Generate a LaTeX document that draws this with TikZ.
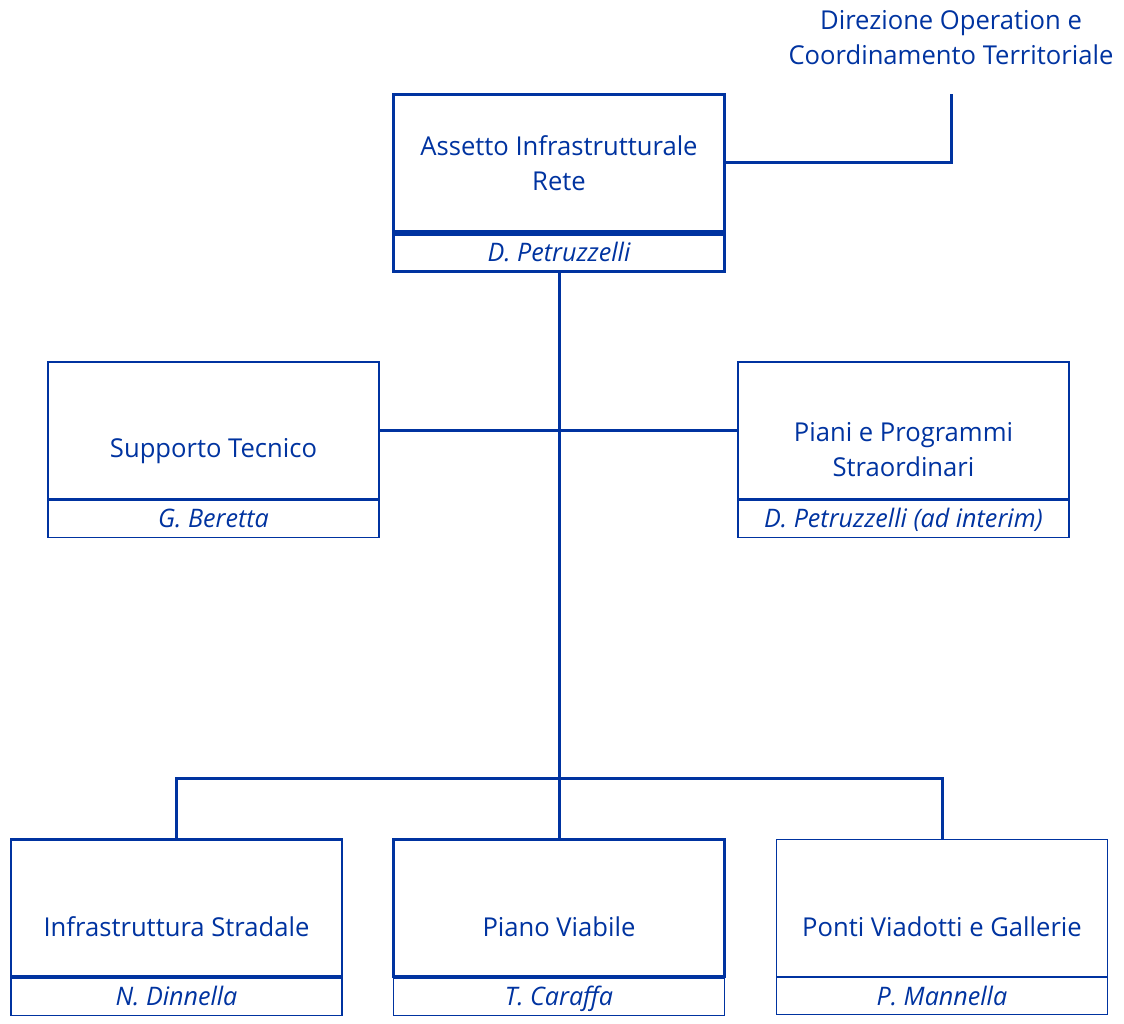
\documentclass[tikz,border=0pt]{standalone}
\usepackage{fontspec}
\setmainfont{Open Sans}[FakeStretch=0.985]
\usetikzlibrary{positioning,calc}
\definecolor{orgblue}{HTML}{0033A0}

\begin{document}
\begin{tikzpicture}[
            x=1pt, y=-1pt,
            unitbox/.style={draw=orgblue, line width=2.8pt, minimum width=331pt, minimum height=137pt, inner sep=0pt},
            unitthin/.style={unitbox, line width=1.1pt},
            headbox/.style={draw=orgblue, line width=1.1pt, minimum width=331pt, minimum height=37pt, inner sep=0pt, text height=22pt, text depth=4pt, text=orgblue, font=\fontsize{25.5}{30}\selectfont\itshape},
            headthick/.style={headbox, line width=2.8pt},
            unittext/.style={text=orgblue, align=center, font=\fontsize{26}{35}\selectfont},
            link/.style={draw=orgblue, line width=3pt}
        ]
            \useasboundingbox (0,0) rectangle (1124,1024);

            % top unit
            \node[unitbox] (air) at (559,163) {};
            \node[headthick, below=0pt of air] (airhead) {D. Petruzzelli};
            \node[unittext] (airtext) at (air.center) {Assetto Infrastrutturale\\Rete};

            \node[unittext] (doct) at (951,38) {Direzione Operation e\\Coordinamento Territoriale};
            \coordinate (doctfoot) at (951,94);

            % staff units
            \node[unitthin] (sup) at (213.5,430.5) {};
            \node[headbox, below=0pt of sup] (suphead) {G. Beretta};
            \node[unittext] (suptext) at ([yshift=-21pt]sup.center) {Supporto Tecnico};

            \node[unitthin] (pps) at (903.5,430.5) {};
            \node[headbox, below=0pt of pps] (ppshead) {D. Petruzzelli (ad interim)};
            \node[unittext] (ppstext) at ([yshift=-19pt]pps.center) {Piani e Programmi\\Straordinari};

            % line units
            \node[unitbox] (ist) at (176.5,908) {};
            \node[headbox, below=0pt of ist] (isthead) {N. Dinnella};
            \node[unittext] (isttext) at ([yshift=-19pt]ist.center) {Infrastruttura Stradale};

            \node[unitbox] (pvi) at (559,908) {};
            \node[headbox, below=0pt of pvi] (pvihead) {T. Caraffa};
            \node[unittext] (pvitext) at ([yshift=-19pt]pvi.center) {Piano Viabile};

            \node[unitthin] (pvg) at (942,908) {};
            \node[headbox, below=0pt of pvg] (pvghead) {P. Mannella};
            \node[unittext] (pvgtext) at ([yshift=-19pt]pvg.center) {Ponti Viadotti e Gallerie};

            % connectors
            \coordinate (fork) at (559,778);
            \path[link] (air.east) -| (doctfoot);
            \path[link] (airhead.south) -- (fork);
            \path[link] (sup.east) -- (pps.west);
            \path[link] (ist.north) |- (fork) -| (pvg.north);
            \path[link] (fork) -- (pvi.north);
        \end{tikzpicture}
\end{document}
